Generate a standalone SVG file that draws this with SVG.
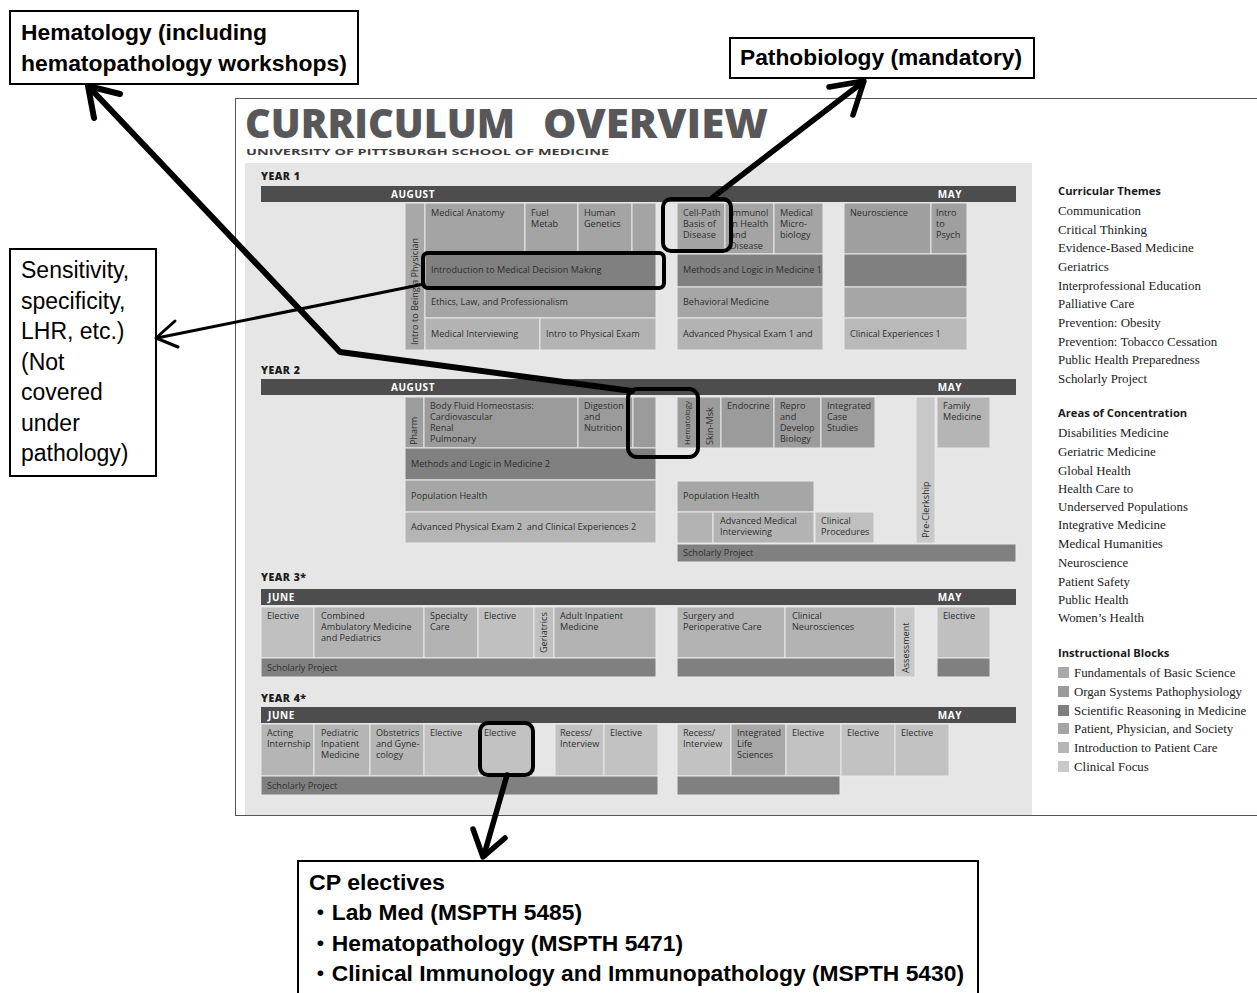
<svg xmlns="http://www.w3.org/2000/svg" width="1257" height="993" viewBox="0 0 1257 993">
<style>
.b{stroke:#e9e9e9;stroke-width:1}
.t{font-family:"Open Sans","Liberation Sans",sans-serif;font-size:9.1px;fill:#2e2e2e}
.ts{font-size:7.8px}
.hd{font-family:"Open Sans","Liberation Sans",sans-serif;font-size:10px;font-weight:700;fill:#fff;letter-spacing:0.6px}
.yr{font-family:"Open Sans","Liberation Sans",sans-serif;font-size:10.5px;font-weight:800;fill:#1e1e1e;letter-spacing:0.5px}
.lh{font-family:"Open Sans","Liberation Sans",sans-serif;font-size:11.2px;font-weight:700;fill:#1a1a1a}
.li{font-family:"Liberation Serif","DejaVu Serif",serif;font-size:12.9px;fill:#222}
.ab{font-family:"Liberation Sans","Noto Sans CJK JP",sans-serif;font-size:22px;font-weight:700;fill:#000}
.ar{font-family:"Liberation Sans",sans-serif;font-size:23px;fill:#000}
.box{fill:#fff;stroke:#000;stroke-width:2}
.hl{fill:none;stroke:#000;stroke-width:4}
.c{fill:none;stroke:#000;stroke-linecap:round;stroke-linejoin:round}
</style>

<g id="curriculum-frame">
<rect x="235.5" y="98.5" width="1100" height="717" fill="#fff" stroke="#555" stroke-width="1"/>
<rect x="245" y="163" width="787" height="652" fill="#e6e6e6"/>
<text x="245" y="138" font-family="Open Sans,Liberation Sans,sans-serif" font-size="40" font-weight="800" fill="#58585a"><tspan x="245" textLength="270" lengthAdjust="spacingAndGlyphs">CURRICULUM</tspan><tspan x="543" textLength="225" lengthAdjust="spacingAndGlyphs">OVERVIEW</tspan></text>
<text x="246" y="155" font-family="Open Sans,Liberation Sans,sans-serif" font-size="9.5" font-weight="700" fill="#3c3c3c" textLength="363" lengthAdjust="spacingAndGlyphs">UNIVERSITY OF PITTSBURGH SCHOOL OF MEDICINE</text>
</g>

<g id="year1">
<text class="yr" x="261" y="180">YEAR 1</text>
<rect x="261" y="186" width="755" height="16" fill="#4d4d4d"/>
<text class="hd" x="413" y="198" text-anchor="middle">AUGUST</text>
<text class="hd" x="950" y="198" text-anchor="middle">MAY</text>
<rect class="b" x="405" y="203" width="20" height="147" fill="#a8a8a8"/>
<text class="t" x="418" y="345" transform="rotate(-90 418 345)">Intro to Being a Physician</text>
<rect class="b" x="425" y="203" width="100" height="51" fill="#a4a4a4"/>
<text class="t" x="431" y="216">Medical Anatomy</text>
<rect class="b" x="525" y="203" width="53" height="51" fill="#a4a4a4"/>
<text class="t" y="216"><tspan x="531">Fuel</tspan><tspan x="531" dy="11">Metab</tspan></text>
<rect class="b" x="578" y="203" width="54" height="51" fill="#a4a4a4"/>
<text class="t" y="216"><tspan x="584">Human</tspan><tspan x="584" dy="11">Genetics</tspan></text>
<rect class="b" x="632" y="203" width="24" height="51" fill="#a4a4a4"/>
<rect class="b" x="425" y="254" width="231" height="33" fill="#808080"/>
<text class="t" x="431" y="273">Introduction to Medical Decision Making</text>
<rect class="b" x="425" y="287" width="231" height="31" fill="#a5a5a5"/>
<text class="t" x="431" y="305">Ethics, Law, and Professionalism</text>
<rect class="b" x="425" y="318" width="115" height="32" fill="#b3b3b3"/>
<text class="t" x="431" y="337">Medical Interviewing</text>
<rect class="b" x="540" y="318" width="116" height="32" fill="#b3b3b3"/>
<text class="t" x="546" y="337">Intro to Physical Exam</text>
<rect class="b" x="677" y="203" width="48" height="51" fill="#a4a4a4"/>
<text class="t" y="216"><tspan x="683">Cell-Path</tspan><tspan x="683" dy="11">Basis of</tspan><tspan x="683" dy="11">Disease</tspan></text>
<rect class="b" x="725" y="203" width="49" height="51" fill="#a4a4a4"/>
<text class="t" y="216"><tspan x="730">Immunol</tspan><tspan x="730" dy="11">in Health</tspan><tspan x="730" dy="11">and</tspan><tspan x="730" dy="11">Disease</tspan></text>
<rect class="b" x="774" y="203" width="49" height="51" fill="#a4a4a4"/>
<text class="t" y="216"><tspan x="780">Medical</tspan><tspan x="780" dy="11">Micro-</tspan><tspan x="780" dy="11">biology</tspan></text>
<rect class="b" x="677" y="254" width="146" height="33" fill="#808080"/>
<text class="t" x="683" y="273">Methods and Logic in Medicine 1</text>
<rect class="b" x="677" y="287" width="146" height="31" fill="#a5a5a5"/>
<text class="t" x="683" y="305">Behavioral Medicine</text>
<rect class="b" x="677" y="318" width="146" height="32" fill="#b3b3b3"/>
<text class="t" x="683" y="337">Advanced Physical Exam 1 and</text>
<rect class="b" x="844" y="203" width="87" height="51" fill="#9f9f9f"/>
<text class="t" x="850" y="216">Neuroscience</text>
<rect class="b" x="931" y="203" width="36" height="51" fill="#9f9f9f"/>
<text class="t" y="216"><tspan x="936">Intro</tspan><tspan x="936" dy="11">to</tspan><tspan x="936" dy="11">Psych</tspan></text>
<rect class="b" x="844" y="254" width="123" height="33" fill="#808080"/>
<rect class="b" x="844" y="287" width="123" height="31" fill="#a5a5a5"/>
<rect class="b" x="844" y="318" width="123" height="32" fill="#b9b9b9"/>
<text class="t" x="850" y="337">Clinical Experiences 1</text>
</g>

<g id="year2">
<text class="yr" x="261" y="374">YEAR 2</text>
<rect x="261" y="379" width="755" height="16" fill="#4d4d4d"/>
<text class="hd" x="413" y="391" text-anchor="middle">AUGUST</text>
<text class="hd" x="950" y="391" text-anchor="middle">MAY</text>
<rect class="b" x="405" y="397" width="19" height="51" fill="#9d9d9d"/>
<text class="t" x="417" y="445" transform="rotate(-90 417 445)">Pharm</text>
<rect class="b" x="424" y="397" width="154" height="51" fill="#9b9b9b"/>
<text class="t" y="409"><tspan x="430">Body Fluid Homeostasis:</tspan><tspan x="430" dy="11">Cardiovascular</tspan><tspan x="430" dy="11">Renal</tspan><tspan x="430" dy="11">Pulmonary</tspan></text>
<rect class="b" x="578" y="397" width="55" height="51" fill="#9b9b9b"/>
<text class="t" y="409"><tspan x="584">Digestion</tspan><tspan x="584" dy="11">and</tspan><tspan x="584" dy="11">Nutrition</tspan></text>
<rect class="b" x="633" y="397" width="23" height="51" fill="#9b9b9b"/>
<rect class="b" x="405" y="448" width="251" height="32" fill="#808080"/>
<text class="t" x="411" y="467">Methods and Logic in Medicine 2</text>
<rect class="b" x="405" y="480" width="251" height="32" fill="#a6a6a6"/>
<text class="t" x="411" y="499">Population Health</text>
<rect class="b" x="405" y="512" width="251" height="31" fill="#b5b5b5"/>
<text class="t" x="411" y="530" xml:space="preserve">Advanced Physical Exam 2  and Clinical Experiences 2</text>
<rect class="b" x="677" y="397" width="22" height="51" fill="#9b9b9b"/>
<text class="t ts" x="690" y="445" transform="rotate(-90 690 445)">Hematology</text>
<rect class="b" x="699" y="397" width="22" height="51" fill="#9b9b9b"/>
<text class="t" x="713" y="445" transform="rotate(-90 713 445)">Skin-Msk</text>
<rect class="b" x="721" y="397" width="53" height="51" fill="#9b9b9b"/>
<text class="t" x="727" y="409">Endocrine</text>
<rect class="b" x="774" y="397" width="47" height="51" fill="#9b9b9b"/>
<text class="t" y="409"><tspan x="780">Repro</tspan><tspan x="780" dy="11">and</tspan><tspan x="780" dy="11">Develop</tspan><tspan x="780" dy="11">Biology</tspan></text>
<rect class="b" x="821" y="397" width="54" height="51" fill="#9b9b9b"/>
<text class="t" y="409"><tspan x="827">Integrated</tspan><tspan x="827" dy="11">Case</tspan><tspan x="827" dy="11">Studies</tspan></text>
<rect class="b" x="916" y="397" width="19" height="146" fill="#c8c8c8"/>
<text class="t" x="929" y="538" transform="rotate(-90 929 538)">Pre-Clerkship</text>
<rect class="b" x="937" y="397" width="53" height="51" fill="#b5b5b5"/>
<text class="t" y="409"><tspan x="943">Family</tspan><tspan x="943" dy="11">Medicine</tspan></text>
<rect class="b" x="677" y="481" width="137" height="31" fill="#a6a6a6"/>
<text class="t" x="683" y="499">Population Health</text>
<rect class="b" x="677" y="512" width="36" height="31" fill="#b3b3b3"/>
<rect class="b" x="713" y="512" width="101" height="31" fill="#b3b3b3"/>
<text class="t" y="524"><tspan x="720">Advanced Medical</tspan><tspan x="720" dy="11">Interviewing</tspan></text>
<rect class="b" x="815" y="512" width="59" height="31" fill="#c0c0c0"/>
<text class="t" y="524"><tspan x="821">Clinical</tspan><tspan x="821" dy="11">Procedures</tspan></text>
<rect class="b" x="677" y="544" width="339" height="18" fill="#808080"/>
<text class="t" x="683" y="556">Scholarly Project</text>
</g>

<g id="year3">
<text class="yr" x="261" y="581">YEAR 3*</text>
<rect x="261" y="589" width="755" height="16" fill="#4d4d4d"/>
<text class="hd" x="268" y="601">JUNE</text>
<text class="hd" x="950" y="601" text-anchor="middle">MAY</text>
<rect class="b" x="261" y="607" width="53" height="51" fill="#c0c0c0"/>
<text class="t" x="267" y="619">Elective</text>
<rect class="b" x="314" y="607" width="110" height="51" fill="#b3b3b3"/>
<text class="t" y="619"><tspan x="321">Combined</tspan><tspan x="321" dy="11">Ambulatory Medicine</tspan><tspan x="321" dy="11">and Pediatrics</tspan></text>
<rect class="b" x="424" y="607" width="54" height="51" fill="#b3b3b3"/>
<text class="t" y="619"><tspan x="430">Specialty</tspan><tspan x="430" dy="11">Care</tspan></text>
<rect class="b" x="478" y="607" width="56" height="51" fill="#c0c0c0"/>
<text class="t" x="484" y="619">Elective</text>
<rect class="b" x="534" y="607" width="20" height="51" fill="#c0c0c0"/>
<text class="t" x="547" y="653" transform="rotate(-90 547 653)">Geriatrics</text>
<rect class="b" x="554" y="607" width="102" height="51" fill="#b3b3b3"/>
<text class="t" y="619"><tspan x="560">Adult Inpatient</tspan><tspan x="560" dy="11">Medicine</tspan></text>
<rect class="b" x="261" y="658" width="395" height="19" fill="#808080"/>
<text class="t" x="267" y="671">Scholarly Project</text>
<rect class="b" x="677" y="607" width="108" height="51" fill="#b3b3b3"/>
<text class="t" y="619"><tspan x="683">Surgery and</tspan><tspan x="683" dy="11">Perioperative Care</tspan></text>
<rect class="b" x="785" y="607" width="110" height="51" fill="#b3b3b3"/>
<text class="t" y="619"><tspan x="792">Clinical</tspan><tspan x="792" dy="11">Neurosciences</tspan></text>
<rect class="b" x="677" y="658" width="218" height="19" fill="#808080"/>
<rect class="b" x="895" y="607" width="20" height="70" fill="#c8c8c8"/>
<text class="t" x="909" y="673" transform="rotate(-90 909 673)">Assessment</text>
<rect class="b" x="937" y="607" width="53" height="51" fill="#c0c0c0"/>
<text class="t" x="943" y="619">Elective</text>
<rect class="b" x="937" y="658" width="53" height="19" fill="#808080"/>
</g>

<g id="year4">
<text class="yr" x="261" y="702">YEAR 4*</text>
<rect x="261" y="707" width="755" height="16" fill="#4d4d4d"/>
<text class="hd" x="268" y="719">JUNE</text>
<text class="hd" x="950" y="719" text-anchor="middle">MAY</text>
<rect class="b" x="261" y="724" width="53" height="52" fill="#b5b5b5"/>
<text class="t" y="736"><tspan x="267">Acting</tspan><tspan x="267" dy="11">Internship</tspan></text>
<rect class="b" x="314" y="724" width="56" height="52" fill="#b5b5b5"/>
<text class="t" y="736"><tspan x="321">Pediatric</tspan><tspan x="321" dy="11">Inpatient</tspan><tspan x="321" dy="11">Medicine</tspan></text>
<rect class="b" x="370" y="724" width="54" height="52" fill="#b5b5b5"/>
<text class="t" y="736"><tspan x="376">Obstetrics</tspan><tspan x="376" dy="11">and Gyne-</tspan><tspan x="376" dy="11">cology</tspan></text>
<rect class="b" x="424" y="724" width="55" height="52" fill="#c2c2c2"/>
<text class="t" x="430" y="736">Elective</text>
<rect class="b" x="479" y="724" width="54" height="52" fill="#c2c2c2"/>
<text class="t" x="484" y="736">Elective</text>
<rect class="b" x="555" y="724" width="49" height="52" fill="#c2c2c2"/>
<text class="t" y="736"><tspan x="560">Recess/</tspan><tspan x="560" dy="11">Interview</tspan></text>
<rect class="b" x="604" y="724" width="54" height="52" fill="#c2c2c2"/>
<text class="t" x="610" y="736">Elective</text>
<rect class="b" x="261" y="776" width="397" height="19" fill="#808080"/>
<text class="t" x="267" y="789">Scholarly Project</text>
<rect class="b" x="677" y="724" width="54" height="52" fill="#c2c2c2"/>
<text class="t" y="736"><tspan x="683">Recess/</tspan><tspan x="683" dy="11">Interview</tspan></text>
<rect class="b" x="731" y="724" width="55" height="52" fill="#a8a8a8"/>
<text class="t" y="736"><tspan x="737">Integrated</tspan><tspan x="737" dy="11">Life</tspan><tspan x="737" dy="11">Sciences</tspan></text>
<rect class="b" x="786" y="724" width="55" height="52" fill="#c2c2c2"/>
<text class="t" x="792" y="736">Elective</text>
<rect class="b" x="841" y="724" width="54" height="52" fill="#c2c2c2"/>
<text class="t" x="847" y="736">Elective</text>
<rect class="b" x="895" y="724" width="54" height="52" fill="#c2c2c2"/>
<text class="t" x="901" y="736">Elective</text>
<rect class="b" x="677" y="776" width="163" height="19" fill="#808080"/>
</g>

<g id="legend">
<text class="lh" x="1058" y="195">Curricular Themes</text>
<text class="li" x="1058" y="215">Communication</text>
<text class="li" x="1058" y="234">Critical Thinking</text>
<text class="li" x="1058" y="252">Evidence-Based Medicine</text>
<text class="li" x="1058" y="271">Geriatrics</text>
<text class="li" x="1058" y="290">Interprofessional Education</text>
<text class="li" x="1058" y="308">Palliative Care</text>
<text class="li" x="1058" y="327">Prevention: Obesity</text>
<text class="li" x="1058" y="346">Prevention: Tobacco Cessation</text>
<text class="li" x="1058" y="364">Public Health Preparedness</text>
<text class="li" x="1058" y="383">Scholarly Project</text>
<text class="lh" x="1058" y="417">Areas of Concentration</text>
<text class="li" x="1058" y="437">Disabilities Medicine</text>
<text class="li" x="1058" y="456">Geriatric Medicine</text>
<text class="li" x="1058" y="475">Global Health</text>
<text class="li" x="1058" y="493">Health Care to</text>
<text class="li" x="1058" y="511">Underserved Populations</text>
<text class="li" x="1058" y="529">Integrative Medicine</text>
<text class="li" x="1058" y="548">Medical Humanities</text>
<text class="li" x="1058" y="567">Neuroscience</text>
<text class="li" x="1058" y="586">Patient Safety</text>
<text class="li" x="1058" y="604">Public Health</text>
<text class="li" x="1058" y="622">Women’s Health</text>
<text class="lh" x="1058" y="657">Instructional Blocks</text>
<rect x="1058" y="667" width="11" height="11" fill="#a9a9a9"/>
<text class="li" x="1074" y="677">Fundamentals of Basic Science</text>
<rect x="1058" y="686" width="11" height="11" fill="#9b9b9b"/>
<text class="li" x="1074" y="696">Organ Systems Pathophysiology</text>
<rect x="1058" y="705" width="11" height="11" fill="#7f7f7f"/>
<text class="li" x="1074" y="715">Scientific Reasoning in Medicine</text>
<rect x="1058" y="723" width="11" height="11" fill="#a5a5a5"/>
<text class="li" x="1074" y="733">Patient, Physician, and Society</text>
<rect x="1058" y="742" width="11" height="11" fill="#b6b6b6"/>
<text class="li" x="1074" y="752">Introduction to Patient Care</text>
<rect x="1058" y="761" width="11" height="11" fill="#c9c9c9"/>
<text class="li" x="1074" y="771">Clinical Focus</text>
</g>

<g id="highlights">
<rect class="hl" x="663" y="199" width="68" height="52" rx="8"/>
<rect class="hl" x="423" y="253" width="241" height="35" rx="5"/>
<rect class="hl" x="628" y="389" width="70" height="68" rx="9"/>
<rect class="hl" x="480" y="723" width="53" height="52" rx="8"/>
</g>

<g id="note-hematology">
<rect class="box" x="10" y="11" width="348" height="73"/>
<text class="ab" x="21" y="40" textLength="246" lengthAdjust="spacingAndGlyphs">Hematology (including</text>
<text class="ab" x="21" y="71" textLength="326" lengthAdjust="spacingAndGlyphs">hematopathology workshops)</text>
</g>

<g id="note-pathobiology">
<rect class="box" x="730" y="38" width="304" height="40"/>
<text class="ab" x="740" y="65" textLength="282" lengthAdjust="spacingAndGlyphs">Pathobiology (mandatory)</text>
</g>

<g id="note-sensitivity">
<rect class="box" x="10" y="249" width="146" height="227"/>
<text class="ar" x="21" y="278">Sensitivity,</text>
<text class="ar" x="21" y="308.5">specificity,</text>
<text class="ar" x="21" y="339">LHR, etc.)</text>
<text class="ar" x="21" y="369.5">(Not</text>
<text class="ar" x="21" y="400">covered</text>
<text class="ar" x="21" y="430.5">under</text>
<text class="ar" x="21" y="461">pathology)</text>
</g>

<g id="note-cp-electives">
<rect class="box" x="298" y="861" width="680" height="140"/>
<text class="ab" x="309" y="890" textLength="136" lengthAdjust="spacingAndGlyphs">CP electives</text>
<text class="ab" x="309" y="920" textLength="273" lengthAdjust="spacingAndGlyphs">・Lab Med (MSPTH 5485)</text>
<text class="ab" x="309" y="951" textLength="374" lengthAdjust="spacingAndGlyphs">・Hematopathology (MSPTH 5471)</text>
<text class="ab" x="309" y="981" textLength="655" lengthAdjust="spacingAndGlyphs">・Clinical Immunology and Immunopathology (MSPTH 5430)</text>
</g>

<g id="connectors">
<polyline class="c" stroke-width="6" points="632,391 340,352 89,87"/>
<polyline class="c" stroke-width="6" points="94,118 88,86 120,94"/>
<line class="c" stroke-width="5.5" x1="712" y1="198" x2="863" y2="82"/>
<polyline class="c" stroke-width="5.5" points="829,87 864,81 853,115"/>
<line class="c" stroke-width="3" x1="424" y1="284" x2="157" y2="338"/>
<polyline class="c" stroke-width="3" points="175,321 156,338 178,347"/>
<line class="c" stroke-width="5.5" x1="507" y1="775" x2="484" y2="855"/>
<polyline class="c" stroke-width="5.5" points="473,829 483,857 505,838"/>
</g>
</svg>
